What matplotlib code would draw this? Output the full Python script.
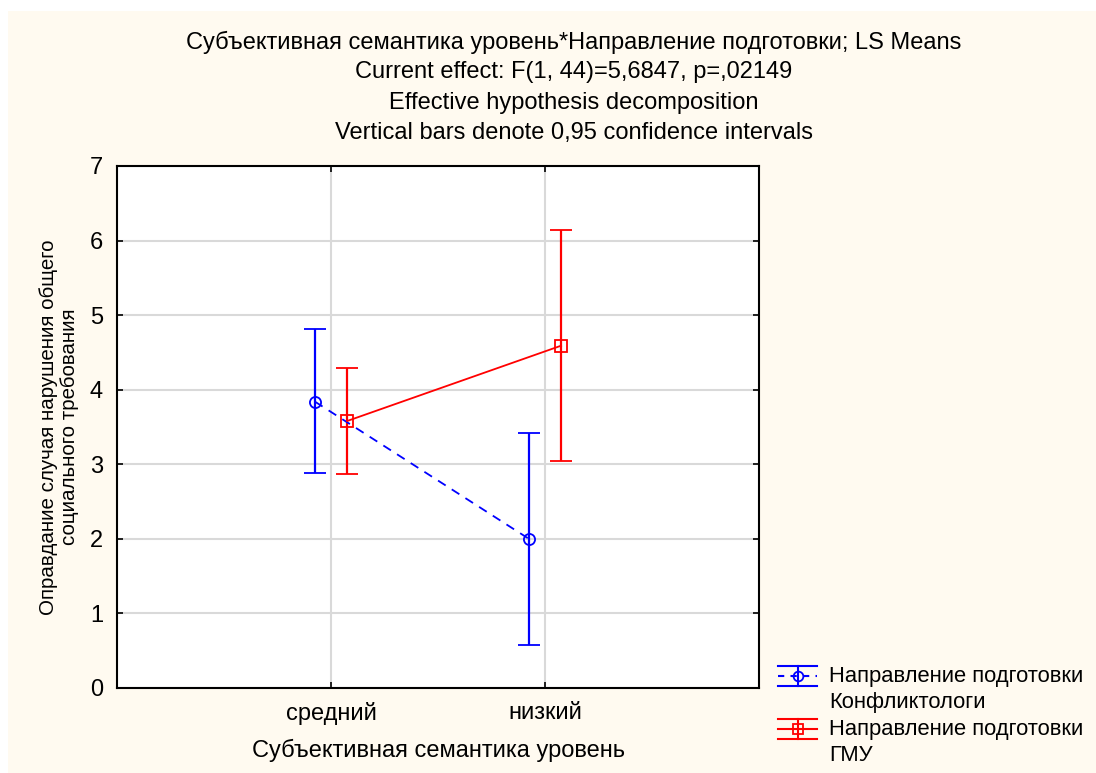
import numpy as np
import matplotlib.pyplot as plt
from matplotlib.patches import Rectangle
from matplotlib.lines import Line2D
from matplotlib.legend_handler import HandlerBase

plt.rcParams['font.family'] = ['Liberation Sans', 'DejaVu Sans']

#data
levels = ['средний', 'низкий']
konf_mean = [3.84, 2.00]
konf_low = [2.88, 0.58]
konf_high = [4.81, 3.42]
gmu_mean = [3.58, 4.59]
gmu_low = [2.87, 3.04]
gmu_high = [4.29, 6.14]

title_lines = ['Субъективная семантика уровень*Направление подготовки; LS Means',
               'Current effect: F(1, 44)=5,6847, p=,02149',
               'Effective hypothesis decomposition',
               'Vertical bars denote 0,95 confidence intervals']
labels = ['Направление подготовки\nКонфликтологи', 'Направление подготовки\nГМУ']

FS = 17


#legend key like in the original: caps across the whole key
class KeyHandler(HandlerBase):
    def __init__(self, color, ls, marker, shift):
        super().__init__()
        self.color, self.ls, self.marker, self.shift = color, ls, marker, shift

    def create_artists(self, legend, orig_handle, xdescent, ydescent, width, height,
                       fontsize, trans):
        x0, x1 = -xdescent, -xdescent + width
        xc = (x0 + x1) / 2
        yc = -ydescent + height / 2 + self.shift
        d = 7.2
        kw = dict(color=self.color, lw=1.5, transform=trans)
        arts = [Line2D([x0, x1], [yc + d, yc + d], **kw),
                Line2D([x0, x1], [yc - d, yc - d], **kw),
                Line2D([xc, xc], [yc - d, yc + d], **kw),
                Line2D([x0, x1], [yc, yc], ls=self.ls, dashes=(3, 3) if self.ls == '--' else (None, None),
                       **kw),
                Line2D([xc], [yc], marker=self.marker, ms=7, mfc='none', mew=1.3,
                       color=self.color, transform=trans)]
        return arts


fig = plt.figure(figsize=(10.96, 7.73), dpi=100)
fig.patches.append(Rectangle((8/1096, 0), 1, 1 - 11/773, transform=fig.transFigure,
                             facecolor='#FFFAF0', edgecolor='none', zorder=-10))

ax = fig.add_axes([117/1096, 1 - 688/773, 642/1096, 522/773])
x = np.arange(1, len(levels) + 1)
off = 0.075

km = np.array(konf_mean)
gm = np.array(gmu_mean)
eb1 = ax.errorbar(x - off, km, yerr=[km - np.array(konf_low), np.array(konf_high) - km],
                  color='#0000FF', ls='--', lw=1.3, marker='o', ms=8, mfc='none', mew=1.3,
                  capsize=8, elinewidth=1.6, capthick=1.6, dashes=(5, 4))
eb2 = ax.errorbar(x + off, gm, yerr=[gm - np.array(gmu_low), np.array(gmu_high) - gm],
                  color='#FF0000', ls='-', lw=1.3, marker='s', ms=9, mfc='none', mew=1.3,
                  capsize=8, elinewidth=1.6, capthick=1.6)

ax.set_xlim(0, 3)
ax.set_ylim(0, 7)
ax.set_xticks(x)
ax.set_xticklabels(levels)
ax.set_yticks(range(0, 8))
ax.grid(True, color='#D9D9D9', lw=1.5)
ax.set_axisbelow(True)
ax.tick_params(direction='in', length=4, width=1.2, labelsize=FS, right=True, top=True)
ax.tick_params(axis='x', pad=10)
ax.tick_params(axis='y', pad=10)
for s in ax.spines.values():
    s.set_linewidth(1.5)
ax.set_xlabel('Субъективная семантика уровень', fontsize=FS, labelpad=10)
ax.set_ylabel('Оправдание случая нарушения общего\nсоциального требования',
              fontsize=14.8, labelpad=8, linespacing=1.1)

for i, t in enumerate(title_lines):
    fig.text(574/1096, 1 - (42 + 30.3*i)/773, t, ha='center', va='center', fontsize=FS)

leg = fig.legend([eb1, eb2], labels, loc='upper left', bbox_to_anchor=(758/1096, 1 - 646/773),
                 frameon=False, fontsize=15.8, handlelength=1.8, labelspacing=0.3,
                 handletextpad=0.55,
                 handler_map={eb1: KeyHandler('#0000FF', '--', 'o', 10),
                              eb2: KeyHandler('#FF0000', '-', 's', 10)})
for t in leg.get_texts():
    t.set_linespacing(1.3)

plt.savefig('out.png', dpi=100)
